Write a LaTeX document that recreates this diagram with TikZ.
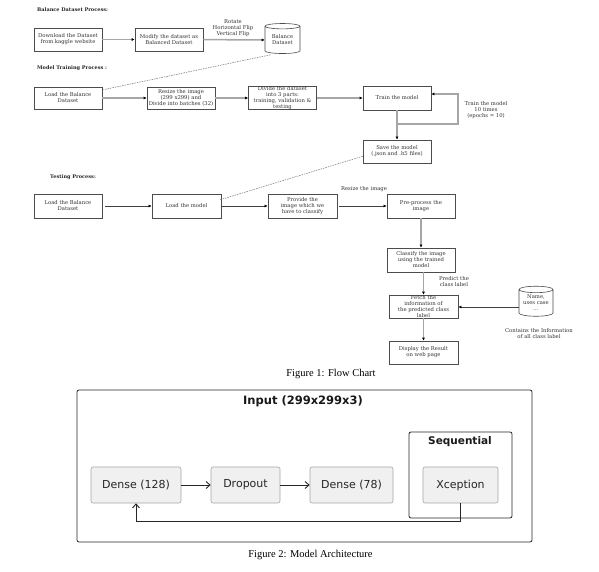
\documentclass[tikz,border=0pt]{standalone}
\usepackage{fontspec}
\setmainfont{Liberation Serif}
\newfontfamily\dvs{DejaVu Sans}
\newfontfamily\dvserif{DejaVu Serif}
\usetikzlibrary{arrows.meta,shapes.geometric,calc}
\begin{document}
\begin{tikzpicture}[x=1pt,y=-1pt,
  ftext/.style={font=\dvserif\fontsize{5.3}{6}\selectfont, text=black!80, align=center, inner sep=0pt},
  fhead/.style={font=\dvserif\bfseries\fontsize{5}{6}\selectfont, text=black!85, anchor=west, inner sep=0pt},
  fbox/.style={ftext, draw=black!70, line width=0.6pt, minimum width=68pt, minimum height=23pt},
  fcyl/.style={ftext, draw=black!70, line width=0.6pt, cylinder, shape border rotate=90, aspect=0.25, minimum width=35pt, minimum height=30pt},
  garrow/.style={draw=black!35, line width=1.5pt, -{Latex[length=3pt,width=3pt,black]}},
  tarrow/.style={draw=black!75, line width=0.5pt, -{Latex[length=3pt,width=3pt,black]}},
  dline/.style={draw=black!55, line width=0.5pt, dash pattern=on 1.5pt off 1pt},
  mbox/.style={draw=black!35, fill=black!6, rounded corners=2pt, line width=0.6pt, minimum height=36pt, font=\dvs\fontsize{11}{13}\selectfont, text=black!85},
  marrow/.style={draw=black!85, line width=0.9pt, -{Straight Barb[length=4pt,width=7pt]}},
  capt/.style={font=\fontsize{10.5}{12}\selectfont, inner sep=0pt}
]
\useasboundingbox (0,0) rectangle (599,572);
\fill[white] (0,0) rectangle (599,572);

% ---------- Balance Dataset Process ----------
\node[fhead] (h1) at (37,10) {Balance Dataset Process:};
\node[fbox] (dl) at (68,39.5) {Download the Dataset\\from kaggle website};
\node[fbox] (mod) at (169,39.5) {Modify the dataset as\\Balanced Dataset};
\node[fcyl] (bd) at (282.5,40) {Balance\\Dataset};
\draw[garrow] (dl) -- (mod);
\draw[garrow] (mod) -- (bd);
\node[ftext] (rot) at (233,28) {Rotate\\Horizontal Flip\\Vertical Flip};

% ---------- Model Training Process ----------
\node[fhead] (h2) at (37,68) {Model Training Process :};
\node[fbox, minimum height=22pt] (lb) at (68,98) {Load the Balance\\Dataset};
\node[fbox, minimum height=22pt] (rs) at (181,98) {Resize the image\\(299 x299) and\\Divide into batches (32)};
\node[fbox, minimum height=22pt] (dv) at (282.5,98) {Divide the dataset\\into 3 parts:\\training, validation \&\\testing};
\node[fbox, minimum height=24pt] (tr) at (397,98) {Train the model};
\node[fbox] (sv) at (397,151.5) {Save the model\\(.json and .h5 files)};
\draw[garrow] (lb) -- (rs);
\draw[garrow] (rs) -- (dv);
\draw[garrow] (dv) -- (tr);
\draw[garrow] (tr) -- (sv);
\coordinate (la) at (458,94);
\coordinate (lbk) at (458,124);
\draw[garrow] (tr.south |- lbk) -- (lbk) -- (la) -- (tr.east |- la);
\node[ftext] (ep) at (486,110) {Train the model\\10 times\\(epochs = 10)};
\draw[dline] ($(bd.south)+(-12,1)$) -- ($(lb.north east)+(1,3)$);

% ---------- Testing Process ----------
\node[fhead] (h3) at (50,177) {Testing Process:};
\node[fbox, minimum height=24pt] (lb3) at (68,206) {Load the Balance\\Dataset};
\node[fbox, minimum height=24pt, minimum width=69pt] (lm) at (186.5,206) {Load the model};
\node[fbox, minimum height=24pt, minimum width=69pt] (pv) at (302.5,206) {Provide the\\image which we\\have to classify};
\node[fbox, minimum height=24pt] (pp) at (421,206) {Pre-process the\\image};
\node[fbox, minimum height=24pt] (cl) at (421,260) {Classify the image\\using the trained\\model};
\node[fbox, minimum width=69pt] (fe) at (423.5,306.5) {Fetch the\\information of\\the predicted class\\label};
\node[fbox, minimum width=69pt] (ds) at (423.5,352.5) {Display the Result\\on web page};
\node[fcyl, minimum width=34pt] (nm) at (536,303) {Name,\\uses case\\...};
\draw[tarrow, shorten <=3pt] (lb3) -- (lm);
\draw[tarrow] (lm) -- (pv);
\draw[tarrow, shorten <=2pt] (pv) -- (pp);
\node[ftext] (rzl) at (364,189) {Resize the image};
\draw[garrow] (pp) -- (cl);
\draw[garrow] (cl.south -| fe.north) -- (fe.north);
\draw[garrow] (fe) -- (ds);
\draw[tarrow] (nm.west |- 0,307) -- (fe.east |- 0,307);
\node[ftext] (pl) at (454,282) {Predict the\\class label};
\node[ftext] (ci) at (539,334) {Contains the Information\\of all class label};
\draw[dline] ($(sv.south west)+(0,-7)$) -- ($(lm.north east)+(-1,6)$);

\node[capt] (c1) at (331,374) {Figure 1: Flow Chart};

% ---------- Figure 2 ----------
\node[draw=black!85, line width=0.8pt, rounded corners=2pt, minimum width=455pt, minimum height=152pt, inner sep=0pt] (outer) at (304.5,466) {};
\node[font=\dvs\bfseries\fontsize{11.5}{13}\selectfont, text=black!90, inner sep=0pt] (ttl) at (303,401) {Input (299x299x3)};
\node[draw=black!85, line width=0.8pt, rounded corners=2pt, minimum width=103pt, minimum height=86pt, inner sep=0pt] (seq) at (460.5,475) {};
\node[font=\dvs\bfseries\fontsize{10.5}{12}\selectfont, text=black!90, inner sep=0pt] (seqt) at (460,442) {Sequential};
\node[mbox, minimum width=90pt] (d1) at (136,485) {Dense (128)};
\node[mbox, minimum width=69pt] (dr) at (245.5,485) {Dropout};
\node[mbox, minimum width=83pt] (d2) at (351.5,485) {Dense (78)};
\node[mbox, minimum width=75pt] (xc) at (460.5,485) {Xception};
\draw[marrow] (d1) -- (dr);
\draw[marrow] (dr) -- (d2);
\draw[marrow] (xc.south) -- ++(0,18) -| (d1.south);
\node[capt] (c2) at (310.5,555) {Figure 2: Model Architecture};
\end{tikzpicture}
\end{document}
